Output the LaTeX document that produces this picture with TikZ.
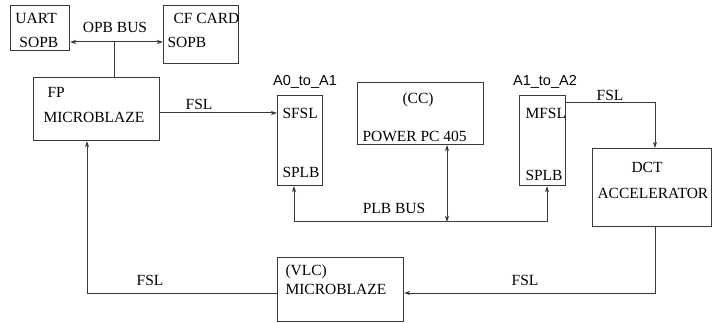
\documentclass[tikz,border=0pt]{standalone}
\usepackage{fontspec}
\setmainfont{Liberation Serif}
\newfontfamily\lblsans{Liberation Sans}
\usetikzlibrary{arrows.meta, positioning, calc}
\definecolor{cline}{HTML}{3A3A3A}
\tikzset{
  every picture/.style={font=\fontsize{15.5}{18}\selectfont, line width=1pt},
  blk/.style={draw=cline, anchor=north west, inner sep=0pt, minimum width=#1},
  txt/.style={inner sep=0pt, anchor=west},
  tag/.style={inner sep=0pt, font=\lblsans\fontsize{14.5}{17}\selectfont},
  arr/.style={-{Stealth[length=6pt, width=4pt, inset=1.5pt]}, draw=cline},
  dbl/.style={{Stealth[length=6pt, width=4pt, inset=1.5pt]}-{Stealth[length=6pt, width=4pt, inset=1.5pt]}, draw=cline},
  wire/.style={draw=cline},
}

\begin{document}
\begin{tikzpicture}[x=1pt, y=-1pt]
  \useasboundingbox (0,0) rectangle (712,323);
  % boxes
  \node[blk=59pt, minimum height=45pt] (uart) at (10,5) {};
  \node[blk=75pt, minimum height=58pt] (cf) at (163,5) {};
  \node[blk=126pt, minimum height=63pt] (fp) at (33,77) {};
  \node[blk=45pt, minimum height=90pt] (a0) at (277,95) {};
  \node[blk=126pt, minimum height=62pt] (cc) at (357,82) {};
  \node[blk=46pt, minimum height=90pt] (a1) at (519,95) {};
  \node[blk=119pt, minimum height=78pt] (dct) at (592,148) {};
  \node[blk=126pt, minimum height=64pt] (vlc) at (277,257) {};
  % texts
  \node[txt] (uartA) at (15,18) {UART};
  \node[txt] (uartB) at (19,42) {SOPB};
  \node[inner sep=0pt] (opbL) at (115,27) {OPB BUS};
  \node[txt] (cfA) at (173,18) {CF CARD};
  \node[txt] (cfB) at (167,42) {SOPB};
  \node[txt] (fpA) at (47,92) {FP};
  \node[txt] (fpB) at (43,117) {MICROBLAZE};
  \node[inner sep=0pt] (fsl1) at (199,104) {FSL};
  \node[tag] (a0tag) at (305,82) {A0\_to\_A1};
  \node[txt] (sfsl) at (282,113) {SFSL};
  \node[txt] (splb0) at (282,172) {SPLB};
  \node[inner sep=0pt] (ccA) at (418,100) {(CC)};
  \node[txt] (ccB) at (362,136) {POWER PC 405};
  \node[inner sep=0pt] (plbL) at (394,208) {PLB BUS};
  \node[tag] (a1tag) at (545,82) {A1\_to\_A2};
  \node[txt] (mfsl) at (525,113) {MFSL};
  \node[txt] (splb1) at (525,175) {SPLB};
  \node[inner sep=0pt] (fsl2) at (610,95) {FSL};
  \node[inner sep=0pt] (dctA) at (647,167) {DCT};
  \node[txt] (dctB) at (597,193) {ACCELERATOR};
  \node[txt] (vlcA) at (285,272) {(VLC)};
  \node[txt] (vlcB) at (285,289) {MICROBLAZE};
  \node[inner sep=0pt] (fsl3) at (150,280) {FSL};
  \node[inner sep=0pt] (fsl4) at (525,280) {FSL};
  % bend points
  \coordinate (opb) at (114,42);
  \coordinate (bl) at (294,222);
  \coordinate (bm) at (447,222);
  \coordinate (br) at (547,222);
  \coordinate (k1) at (655,103);
  \coordinate (k2) at (655,293);
  \coordinate (k3) at (87,293);
  % connectors
  \draw[dbl] (opb -| uart.east) -- (opb -| cf.west);
  \draw[wire] (opb) -- (opb |- fp.north);
  \draw[arr] (sfsl -| fp.east) -- (sfsl -| a0.west);
  \draw[dbl] (bl |- a0.south) -- (bl) -- (br) -- (br |- a1.south);
  \draw[dbl] (bm |- cc.south) -- (bm);
  \draw[arr] (k1 -| a1.east) -- (k1) -- (k1 |- dct.north);
  \draw[arr] (k2 |- dct.south) -- (k2) -- (k2 -| vlc.east);
  \draw[arr] (k3 -| vlc.west) -- (k3) -- (k3 |- fp.south);
\end{tikzpicture}
\end{document}
